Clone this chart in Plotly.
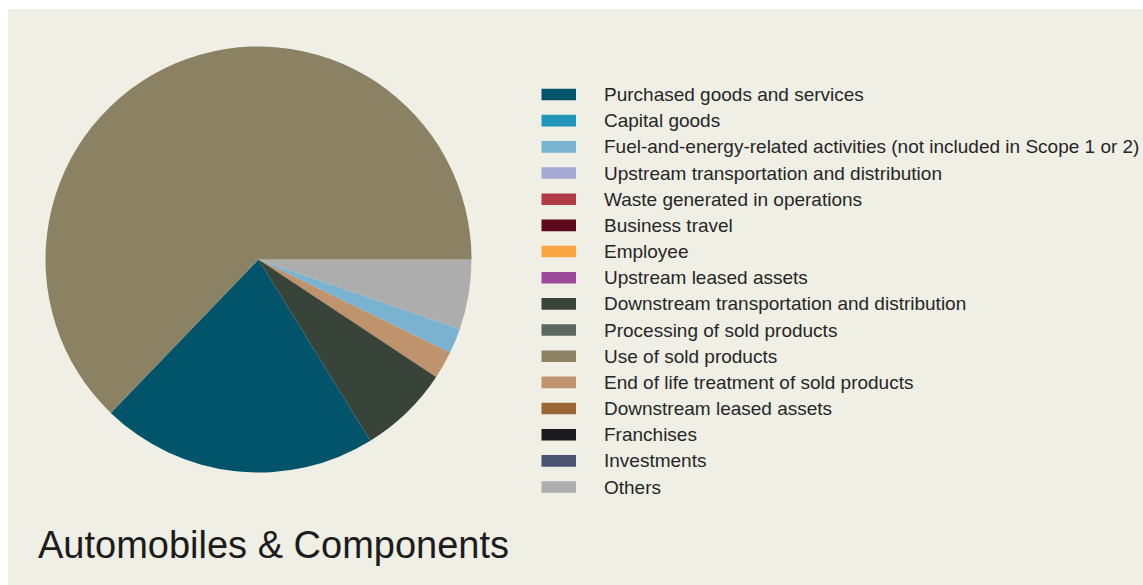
import plotly.graph_objects as go

# Scope 3 emission categories (legend order) and their shares (%)
categories = [
    "Purchased goods and services",
    "Capital goods",
    "Fuel-and-energy-related activities (not included in Scope 1 or 2)",
    "Upstream transportation and distribution",
    "Waste generated in operations",
    "Business travel",
    "Employee",
    "Upstream leased assets",
    "Downstream transportation and distribution",
    "Processing of sold products",
    "Use of sold products",
    "End of life treatment of sold products",
    "Downstream leased assets",
    "Franchises",
    "Investments",
    "Others",
]
shares = [21.0, 0, 1.9, 0, 0, 0, 0, 0, 6.9, 0, 62.8, 2.1, 0, 0, 0, 5.3]
colors = [
    "#02546b", "#2196b9", "#7ab3d0", "#a4aad4", "#b03a45", "#5d0a1e",
    "#f9a541", "#9b4a9c", "#38433a", "#5b6760", "#8b8263", "#bf936d",
    "#9c6636", "#1b1b1f", "#4b5373", "#adadad",
]
# order in which the slices run clockwise from 3 o'clock
slice_order = [
    "Others",
    "Fuel-and-energy-related activities (not included in Scope 1 or 2)",
    "End of life treatment of sold products",
    "Downstream transportation and distribution",
    "Purchased goods and services",
    "Use of sold products",
]
title_text = "Automobiles & Components"

W, H = 1143, 585
BG = "#f0efe5"
FONT = "Liberation Sans, Arial, Helvetica, sans-serif"

share_of = dict(zip(categories, shares))
color_of = dict(zip(categories, colors))

fig = go.Figure()
fig.add_trace(go.Pie(
    labels=slice_order,
    values=[share_of[c] for c in slice_order],
    marker=dict(colors=[color_of[c] for c in slice_order], line=dict(width=0)),
    sort=False,
    direction="clockwise",
    rotation=90,
    textinfo="none",
    hoverinfo="label+percent",
    showlegend=False,
    domain=dict(x=[45.5 / W, 471.5 / W], y=[112.5 / H, 538.5 / H]),
))

shapes = [
    # white strips framing the beige panel
    dict(type="rect", xref="paper", yref="paper", x0=0, x1=1,
         y0=(H - 9) / H, y1=1, fillcolor="white", line=dict(width=0), layer="below"),
    dict(type="rect", xref="paper", yref="paper", x0=0, x1=8 / W,
         y0=0, y1=1, fillcolor="white", line=dict(width=0), layer="below"),
]
annotations = []

# legend: swatch + label for each category
row0, step = 94.5, 26.17
for i, (cat, col) in enumerate(zip(categories, colors)):
    yc = row0 + i * step
    shapes.append(dict(
        type="rect", xref="paper", yref="paper",
        x0=541.5 / W, x1=576 / W,
        y0=(H - yc - 5.8) / H, y1=(H - yc + 5.8) / H,
        fillcolor=col, line=dict(width=0),
    ))
    annotations.append(dict(
        xref="paper", yref="paper", x=601.5 / W, y=(H - yc) / H,
        xanchor="left", yanchor="middle", showarrow=False,
        text=cat, font=dict(family=FONT, size=19, color="#262626"),
    ))

annotations.append(dict(
    xref="paper", yref="paper", x=36 / W, y=(H - 545) / H,
    xanchor="left", yanchor="middle", showarrow=False,
    text=title_text, font=dict(family=FONT, size=38, color="#1c1c1c"),
))

fig.update_layout(
    width=W, height=H,
    margin=dict(l=0, r=0, t=0, b=0),
    paper_bgcolor=BG, plot_bgcolor=BG,
    shapes=shapes, annotations=annotations,
    showlegend=False,
)

fig.write_html("out.html")
